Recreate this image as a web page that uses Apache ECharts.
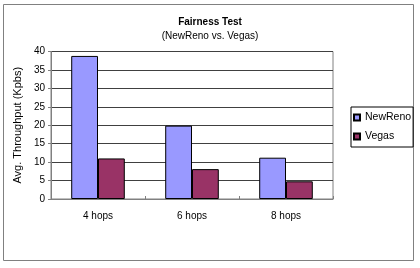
<!DOCTYPE html>
<html><head><meta charset="utf-8">
<script src="https://cdn.jsdelivr.net/npm/echarts@6/dist/echarts.min.js"></script>
<style>html,body{margin:0;padding:0;background:#fff}#c{width:420px;height:268px}</style>
</head><body><div id="c"></div>
<script>
const categories = ['4 hops', '6 hops', '8 hops'];
const newReno = [38.8, 19.9, 11.2];
const vegas = [11.0, 8.1, 4.8];
const yTicks = [0, 5, 10, 15, 20, 25, 30, 35, 40];

const chart = echarts.init(document.getElementById('c'), null, {renderer: 'canvas'});
const font = 'Liberation Sans, Arial, sans-serif';
chart.setOption({
  animation: false,
  backgroundColor: '#fff',
  textStyle: {fontFamily: font},
  title: {
    text: 'Fairness Test',
    subtext: '(NewReno vs. Vegas)',
    left: 'center',
    top: 12,
    itemGap: 4,
    textStyle: {fontFamily: font, fontSize: 10, fontWeight: 'bold', color: '#000'},
    subtextStyle: {fontFamily: font, fontSize: 10, color: '#000'}
  },
  graphic: [{
    type: 'rect', shape: {x: 3.5, y: 4.5, width: 410, height: 256},
    style: {fill: 'none', stroke: '#808080', lineWidth: 1}, z: -1
  }],
  legend: {
    orient: 'vertical',
    left: 351, top: 107,
    padding: [5, 2, 5, 2],
    itemGap: 8,
    itemWidth: 6, itemHeight: 6,
    icon: 'rect',
    borderColor: '#000', borderWidth: 1,
    textStyle: {fontFamily: font, fontSize: 10.5, color: '#000'},
    data: ['NewReno', 'Vegas']
  },
  grid: {left: 51, right: 87, top: 51.5, bottom: 69, show: true, borderColor: '#808080', borderWidth: 1},
  xAxis: {
    type: 'category',
    data: categories,
    axisLine: {lineStyle: {color: '#808080'}},
    axisTick: {show: true, inside: true, length: 3, lineStyle: {color: '#808080'}},
    axisLabel: {fontFamily: font, fontSize: 10, color: '#000', margin: 12}
  },
  yAxis: {
    type: 'value',
    min: yTicks[0], max: yTicks[yTicks.length - 1], interval: 5,
    name: 'Avg. Throughput (Kpbs)',
    nameLocation: 'middle',
    nameGap: 26,
    nameTextStyle: {fontFamily: font, fontSize: 11, color: '#000'},
    axisLine: {show: true, lineStyle: {color: '#808080'}},
    axisTick: {show: true, length: 3, lineStyle: {color: '#808080'}},
    axisLabel: {fontFamily: font, fontSize: 10, color: '#000', margin: 6},
    splitLine: {lineStyle: {color: '#404040', width: 1}}
  },
  series: [
    {name: 'NewReno', type: 'bar', data: newReno, barGap: '0%', barCategoryGap: '43%',
     itemStyle: {color: '#9999FF', borderColor: '#000', borderWidth: 1}},
    {name: 'Vegas', type: 'bar', data: vegas,
     itemStyle: {color: '#993366', borderColor: '#000', borderWidth: 1}}
  ]
});
</script></body></html>
